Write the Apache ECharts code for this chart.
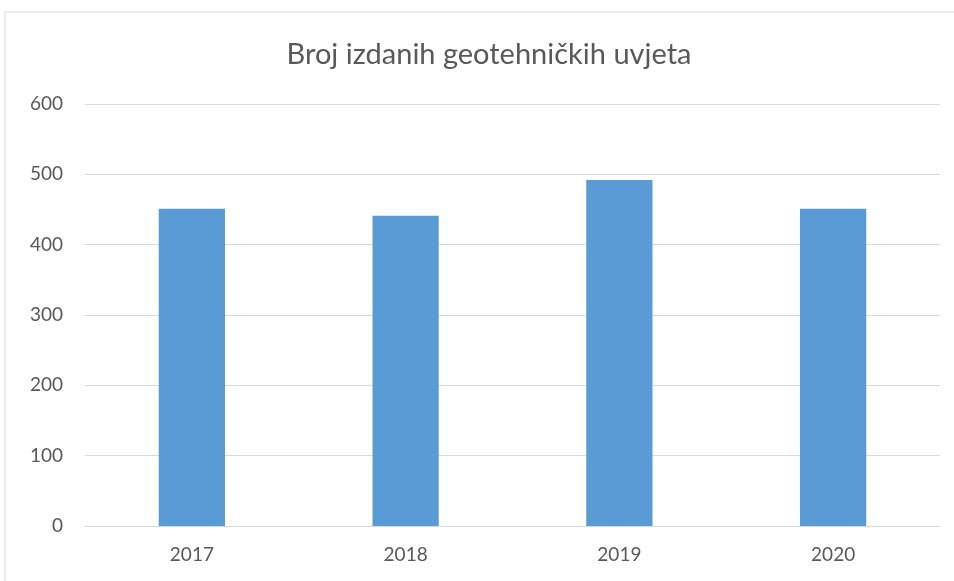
<!DOCTYPE html>
<html>
<head>
<meta charset="utf-8">
<script src="https://cdn.jsdelivr.net/npm/echarts@6/dist/echarts.min.js"></script>
<style>
  html, body { margin: 0; padding: 0; background: #fff; }
  #chart { width: 954px; height: 581px; }
</style>
</head>
<body>
<div id="chart"></div>
<script>
// podaci
var years = ['2017', '2018', '2019', '2020'];
var counts = [451, 441, 492, 451];
var yTicks = [0, 100, 200, 300, 400, 500, 600];

var chart = echarts.init(document.getElementById('chart'));
var option = {
    animation: false,
    textStyle: { fontFamily: 'Lato' },
    title: {
        text: 'Broj izdanih geotehničkih uvjeta',
        left: 484,
        top: 35,
        textAlign: 'center',
        textStyle: { fontSize: 29, fontWeight: 'normal', color: '#595959', fontFamily: 'Lato' }
    },
    graphic: [{
        type: 'rect',
        shape: { x: 5, y: 12, width: 980, height: 600 },
        style: { fill: 'none', stroke: '#d9d9d9', lineWidth: 1 },
        silent: true
    }],
    grid: { left: 85, right: 14, top: 104, bottom: 55 },
    xAxis: {
        type: 'category',
        data: years,
        axisLine: { lineStyle: { color: '#d9d9d9' } },
        axisTick: { show: false },
        axisLabel: { color: '#595959', fontSize: 19, margin: 19 }
    },
    yAxis: {
        type: 'value',
        min: yTicks[0],
        max: yTicks[yTicks.length - 1],
        interval: 100,
        axisLine: { show: false },
        axisTick: { show: false },
        axisLabel: { color: '#595959', fontSize: 19, margin: 22 },
        splitLine: { lineStyle: { color: '#d9d9d9', width: 1 } }
    },
    series: [{
        type: 'bar',
        data: counts,
        barWidth: '31%',
        itemStyle: { color: '#5b9bd5' }
    }]
};
chart.setOption(option);
</script>
</body>
</html>
